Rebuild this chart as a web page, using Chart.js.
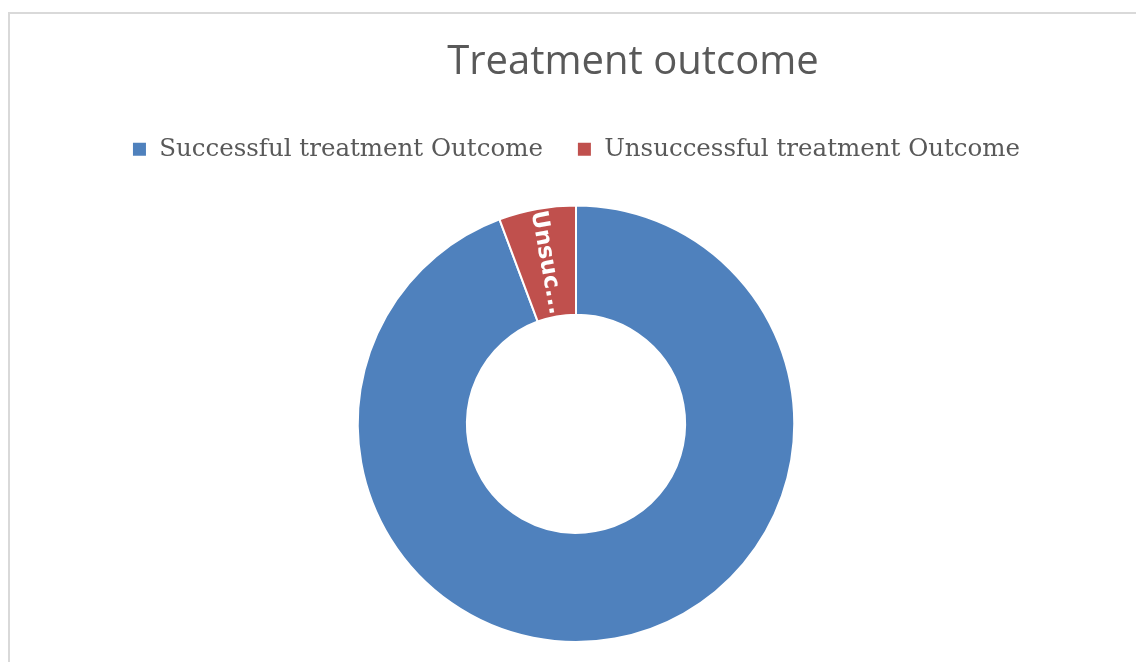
<!DOCTYPE html>
<html>
<head>
<meta charset="utf-8">
<script src="https://cdn.jsdelivr.net/npm/chart.js@4/dist/chart.umd.min.js"></script>
<style>
  html, body { margin: 0; padding: 0; background: #fff; }
  #wrap { position: relative; width: 1136px; height: 662px; overflow: hidden; }
  #frame {
    position: absolute; left: 8px; top: 12px; width: 1200px; height: 700px;
    border-top: 2px solid #d9d9d9; border-left: 2px solid #d9d9d9;
  }
  canvas { position: absolute; left: 0; top: 0; }
</style>
</head>
<body>
<div id="wrap">
  <div id="frame"></div>
  <canvas id="chart" width="1136" height="662"></canvas>
</div>
<script>
const categories = ["Successful treatment Outcome", "Unsuccessful treatment Outcome"];
const shortLabels = ["", "Unsuc..."];
const values = [94.3, 5.7];
const colors = ["#4f81bd", "#c0504d"];

// extra room under the legend, and title nudged right like the original
const layoutTweaks = {
  id: "layoutTweaks",
  beforeInit(chart) {
    const legend = chart.legend;
    if (!legend) return;
    const fit = legend.fit;
    legend.fit = function () {
      fit.call(this);
      this.height += 33;
    };
  },
  beforeDraw(chart) {
    const t = chart.titleBlock;
    if (t && !t._shifted) {
      t.left += 57;
      t.right += 57;
      t._shifted = true;
    }
  },
  afterLayout(chart) {
    if (chart.titleBlock) chart.titleBlock._shifted = false;
  },
};

// draws the short white label inside each slice, along the radius
const sliceLabels = {
  id: "sliceLabels",
  afterDatasetsDraw(chart) {
    const ctx = chart.ctx;
    const meta = chart.getDatasetMeta(0);
    meta.data.forEach((arc, i) => {
      const text = shortLabels[i];
      if (!text) return;
      const mid = (arc.startAngle + arc.endAngle) / 2;
      const r = (arc.innerRadius + arc.outerRadius) / 2;
      const x = arc.x + Math.cos(mid) * r;
      const y = arc.y + Math.sin(mid) * r;
      ctx.save();
      ctx.translate(x, y);
      ctx.rotate(mid + Math.PI);
      ctx.fillStyle = "#ffffff";
      ctx.font = "bold 23px 'DejaVu Sans'";
      ctx.textAlign = "center";
      ctx.textBaseline = "middle";
      ctx.fillText(text, 0, 0);
      ctx.restore();
    });
  },
};

new Chart(document.getElementById("chart"), {
  type: "doughnut",
  data: {
    labels: categories,
    datasets: [{
      data: values,
      backgroundColor: colors,
      borderColor: "#ffffff",
      borderWidth: 2,
    }],
  },
  options: {
    responsive: false,
    animation: false,
    cutout: "50%",
    layout: { padding: { left: 16, bottom: 19 } },
    plugins: {
      title: {
        display: true,
        text: "Treatment outcome",
        color: "#595959",
        font: { family: "'Open Sans'", size: 40, weight: "normal" },
        padding: { top: 39, bottom: 16 },
      },
      legend: {
        position: "top",
        labels: {
          color: "#595959",
          font: { family: "'DejaVu Serif'", size: 24.5 },
          boxWidth: 15,
          boxHeight: 15,
          padding: 34,
        },
      },
      tooltip: { enabled: false },
    },
  },
  plugins: [layoutTweaks, sliceLabels],
});
</script>
</body>
</html>
